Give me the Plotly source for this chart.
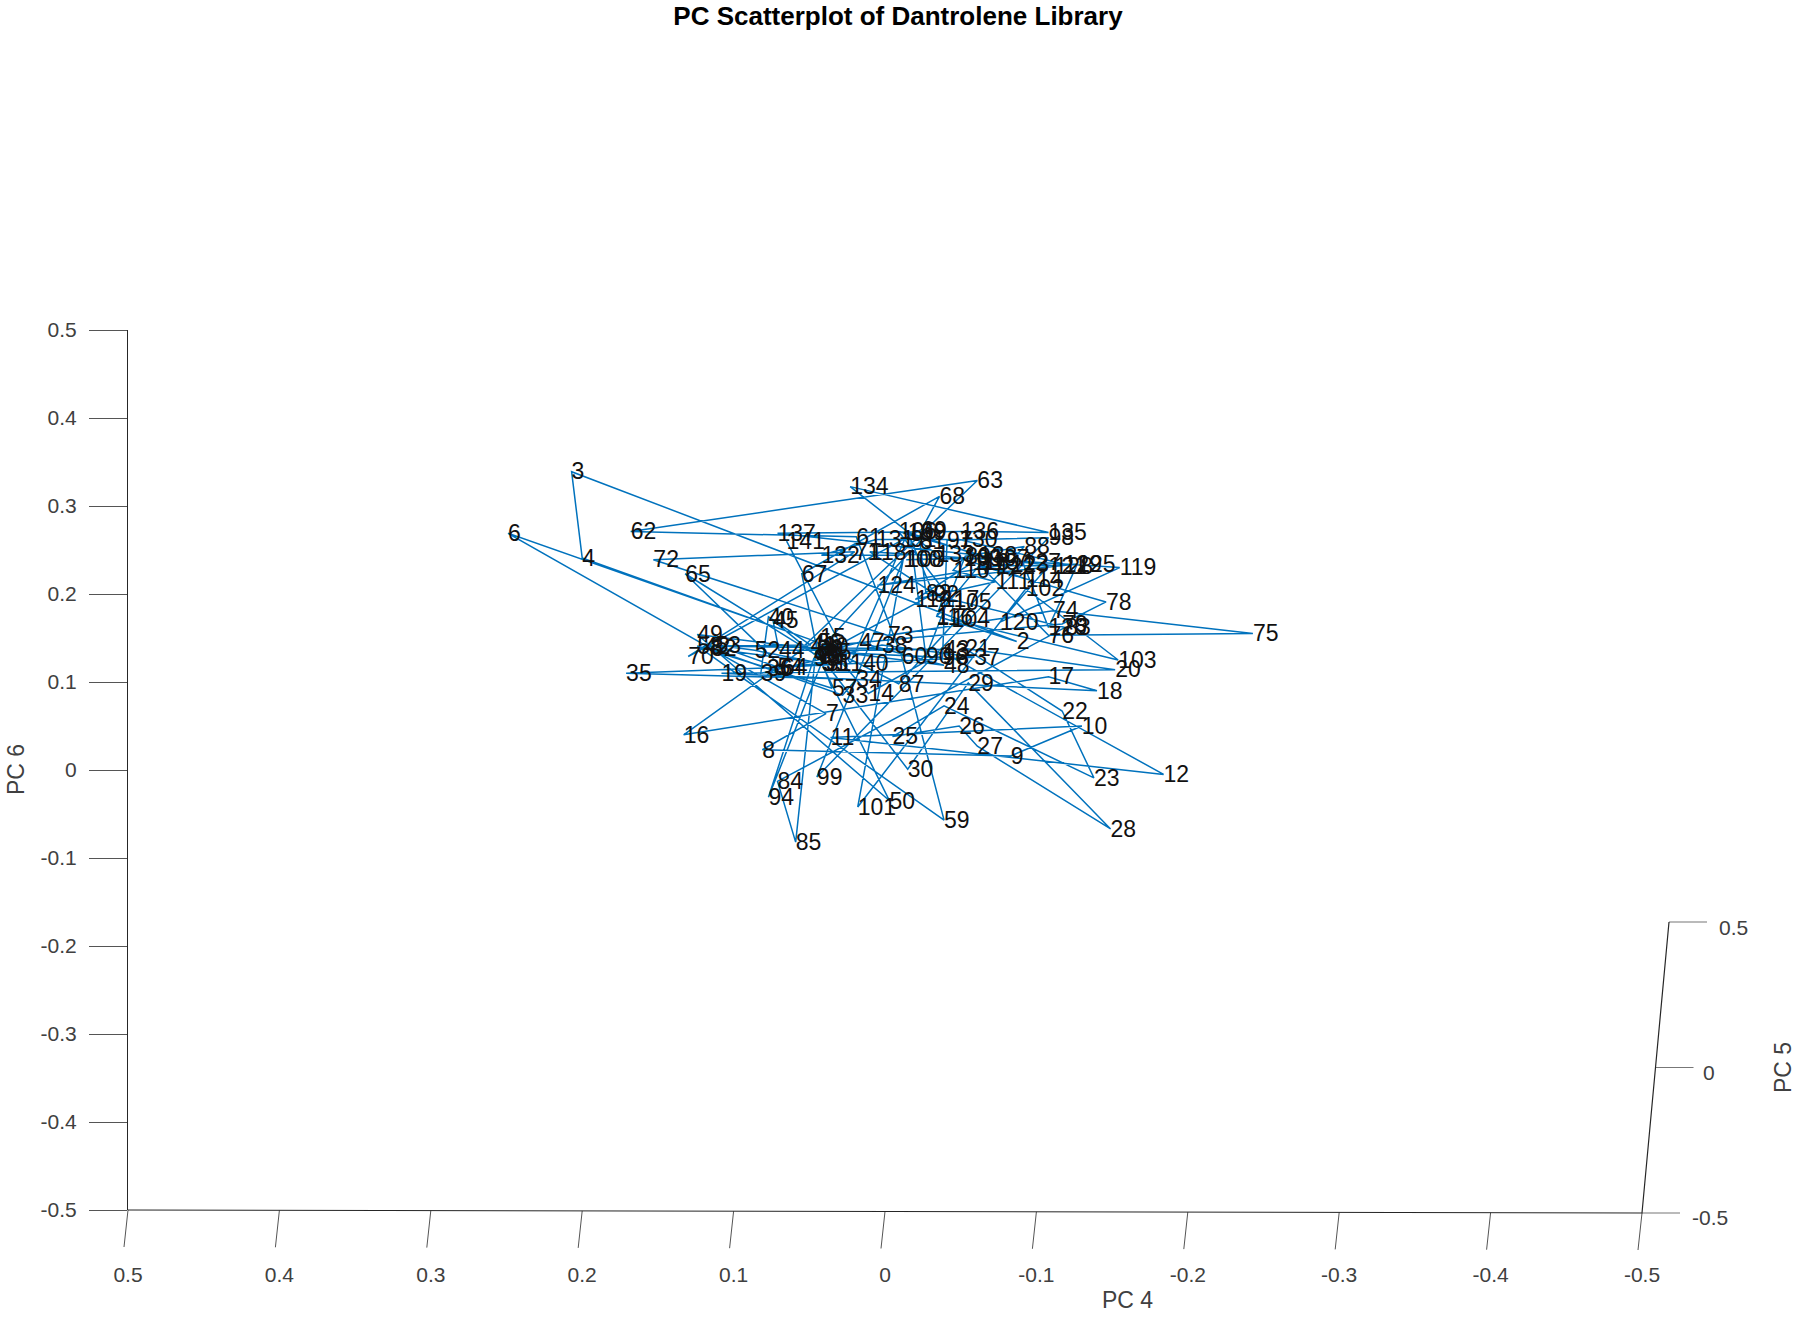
import plotly.graph_objects as go

# PC scores, sample 1 to 141 in order
pc4 = [
    -0.034, -0.087, 0.207, 0.200, 0.044, 0.249, 0.039, 0.081, -0.083, -0.130,
    0.036, -0.184, -0.038, 0.011, 0.043, 0.133, -0.108, -0.140, 0.108, -0.152,
    -0.053, -0.117, -0.138, -0.039, -0.005, -0.049, -0.061, -0.149, -0.055, -0.015,
    0.039, 0.115, 0.028, 0.019, 0.171, 0.078, -0.059, 0.002, 0.082, 0.077,
    0.049, 0.119, -0.039, 0.070, 0.074, 0.047, 0.017, -0.039, 0.124, -0.003,
    0.042, 0.086, 0.112, 0.071, 0.041, 0.045, 0.035, 0.124, -0.039, -0.011,
    0.019, 0.168, -0.061, 0.068, 0.132, 0.044, 0.055, -0.036, -0.024, 0.130,
    0.020, 0.153, -0.002, -0.111, -0.243, -0.108, -0.063, -0.146, -0.117, 0.041,
    -0.023, -0.027, -0.119, 0.071, 0.059, 0.045, -0.009, -0.092, -0.053, -0.027,
    -0.017, -0.032, 0.047, 0.077, 0.039, -0.038, -0.041, -0.108, 0.045, -0.012,
    0.018, -0.093, -0.154, -0.044, -0.045, -0.009, -0.070, -0.014, -0.052, -0.045,
    -0.073, -0.020, -0.058, -0.093, -0.064, -0.034, -0.038, 0.010, -0.155, -0.076,
    -0.108, -0.074, -0.083, 0.005, -0.127, -0.108, -0.091, -0.112, -0.118, -0.049,
    0.006, 0.042, -0.034, 0.023, -0.108, -0.050, 0.071, -0.062, -0.015, 0.023,
    0.065,
]
pc6 = [
    0.175, 0.146, 0.339, 0.241, 0.145, 0.269, 0.064, 0.023, 0.016, 0.050,
    0.037, -0.005, 0.134, 0.087, 0.151, 0.040, 0.106, 0.090, 0.110, 0.114,
    0.138, 0.067, -0.009, 0.073, 0.038, 0.050, 0.027, -0.067, 0.099, 0.001,
    0.121, 0.138, 0.085, 0.103, 0.110, 0.116, 0.128, 0.142, 0.110, 0.174,
    0.142, 0.141, 0.137, 0.136, 0.170, 0.132, 0.145, 0.119, 0.154, -0.035,
    0.121, 0.136, 0.142, 0.117, 0.121, 0.137, 0.093, 0.141, -0.057, 0.129,
    0.265, 0.271, 0.329, 0.117, 0.223, 0.129, 0.223, 0.311, 0.273, 0.129,
    0.248, 0.239, 0.153, 0.181, 0.155, 0.153, 0.232, 0.191, 0.166, 0.141,
    0.260, 0.201, 0.162, -0.013, -0.082, 0.145, 0.098, 0.254, 0.243, 0.129,
    0.262, 0.200, 0.127, -0.031, 0.134, 0.128, 0.261, 0.264, -0.008, 0.239,
    -0.042, 0.206, 0.125, 0.171, 0.191, 0.271, 0.241, 0.239, 0.241, 0.227,
    0.214, 0.194, 0.236, 0.217, 0.236, 0.174, 0.194, 0.248, 0.230, 0.168,
    0.232, 0.232, 0.234, 0.210, 0.234, 0.162, 0.236, 0.232, 0.234, 0.262,
    0.262, 0.244, 0.245, 0.322, 0.270, 0.271, 0.269, 0.244, 0.270, 0.121,
    0.260,
]
labels = [str(i + 1) for i in range(len(pc4))]

pc4_ticks = [0.5, 0.4, 0.3, 0.2, 0.1, 0, -0.1, -0.2, -0.3, -0.4, -0.5]
pc6_ticks = [-0.5, -0.4, -0.3, -0.2, -0.1, 0, 0.1, 0.2, 0.3, 0.4, 0.5]
pc5_ticks = [-0.5, 0, 0.5]

WIDTH, HEIGHT = 1800, 1317
FONT = "Liberation Sans"
TEXT = "#404040"
AXIS = "#262626"
X_PX = 1 / 1514  # data units per pixel on each axis
Y_PX = 1 / 880
TILT = 3 * Y_PX  # the floor of the box falls slightly to the right


def floor_y(val):
    return -0.5 - TILT * (0.5 - val)


def depth_point(val):
    # PC 5 runs up into the picture from the right corner of the floor
    frac = val + 0.5
    return -0.5 - 27 * frac * X_PX, floor_y(-0.5) + 291 * frac * Y_PX


tick_x, tick_y = [], []
for val in pc4_ticks:
    tick_x += [val, val + 4 * X_PX, None]
    tick_y += [floor_y(val), floor_y(val) - 37 * Y_PX, None]

depth_x, depth_y = [], []
for val in pc5_ticks:
    px, py = depth_point(val)
    depth_x += [px, px - 38 * X_PX, None]
    depth_y += [py, py, None]

fig = go.Figure()

fig.add_trace(
    go.Scatter(
        x=pc4, y=pc6, mode="lines", hoverinfo="skip",
        line={"color": "#0072BD", "width": 1.5},
    )
)
# labels sit a touch lower than plotly's middle alignment puts them
fig.add_trace(
    go.Scatter(
        x=pc4,
        y=[v - 2 * Y_PX for v in pc6],
        text=labels,
        mode="text",
        textposition="middle right",
        textfont={"family": FONT, "size": 23, "color": "#111111"},
        cliponaxis=False,
        hoverinfo="skip",
    )
)

# lines are always clipped to their subplot, so the slanted ticks and the
# depth axis go on a hidden full-page subplot with the same scale
fig.add_trace(
    go.Scatter(
        x=tick_x, y=tick_y, xaxis="x2", yaxis="y2", mode="lines", hoverinfo="skip",
        line={"color": "#555555", "width": 1},
    )
)
fig.add_trace(
    go.Scatter(
        x=depth_x, y=depth_y, xaxis="x2", yaxis="y2", mode="lines", hoverinfo="skip",
        line={"color": "#777777", "width": 1.2},
    )
)
fig.add_trace(
    go.Scatter(
        x=[0.5, -0.5, depth_point(0.5)[0]],
        y=[floor_y(0.5), floor_y(-0.5), depth_point(0.5)[1]],
        xaxis="x2", yaxis="y2", mode="lines", hoverinfo="skip",
        line={"color": AXIS, "width": 1.2},
    )
)

annotations = [
    dict(text="PC 4", x=1127 / WIDTH, y=1 - 1300 / HEIGHT, font={"family": FONT, "size": 23, "color": TEXT}),
    dict(text="PC 6", x=16 / WIDTH, y=1 - 770 / HEIGHT, textangle=-90, font={"family": FONT, "size": 23, "color": TEXT}),
    dict(text="PC 5", x=1783 / WIDTH, y=1 - 1068 / HEIGHT, textangle=-90, font={"family": FONT, "size": 23, "color": TEXT}),
]
for val, label_x, label_y in zip(pc5_ticks, [1710, 1709, 1733], [1217, 1072, 927]):
    annotations.append(
        dict(text=f"{val:g}", x=label_x / WIDTH, y=1 - label_y / HEIGHT,
             font={"family": FONT, "size": 21, "color": TEXT})
    )
for note in annotations:
    note.update(xref="paper", yref="paper", xanchor="center", yanchor="middle", showarrow=False)

fig.update_layout(
    width=WIDTH,
    height=HEIGHT,
    margin=dict(l=0, r=0, t=0, b=0),
    paper_bgcolor="white",
    plot_bgcolor="rgba(0,0,0,0)",  # the full-page subplot must not paint over the main one
    showlegend=False,
    title={
        "text": "<b>PC Scatterplot of Dantrolene Library</b>",
        "x": 898 / WIDTH,
        "xanchor": "center",
        "y": 1 - 16 / HEIGHT,
        "yanchor": "middle",
        "font": {"family": FONT, "size": 26, "color": "#000000"},
    },
    xaxis=dict(
        automargin=False,
        domain=[128 / WIDTH, 1642 / WIDTH],
        range=[0.5, -0.5],
        tickvals=pc4_ticks,
        ticktext=[f"{v:g}" for v in pc4_ticks],
        ticks="outside",
        ticklen=46,
        tickcolor="rgba(0,0,0,0)",
        showgrid=False,
        zeroline=False,
        showline=False,
        tickangle=0,
        tickfont={"family": FONT, "size": 21, "color": TEXT},
    ),
    yaxis=dict(
        automargin=False,
        domain=[1 - 1210 / HEIGHT, 1 - 330 / HEIGHT],
        range=[-0.5, 0.5],
        tickvals=pc6_ticks,
        ticktext=[f"{v:g}" for v in pc6_ticks],
        ticks="outside",
        ticklen=38,
        ticklabelstandoff=8,
        tickwidth=1,
        tickcolor="#555555",
        showgrid=False,
        zeroline=False,
        showline=True,
        linecolor=AXIS,
        linewidth=1.2,
        tickfont={"family": FONT, "size": 21, "color": TEXT},
    ),
    xaxis2=dict(
        visible=False,
        automargin=False,
        domain=[0, 1],
        anchor="y2",
        range=[0.5 + 128 * X_PX, 0.5 - (WIDTH - 128) * X_PX],
    ),
    yaxis2=dict(
        visible=False,
        automargin=False,
        domain=[0, 1],
        anchor="x2",
        range=[-0.5 - (HEIGHT - 1210) * Y_PX, 0.5 + 330 * Y_PX],
    ),
    annotations=annotations,
)

fig.write_html(
    "out.html",
    config={"displayModeBar": False},
    post_script="document.body.style.margin='0';document.body.style.overflow='hidden';",
)
